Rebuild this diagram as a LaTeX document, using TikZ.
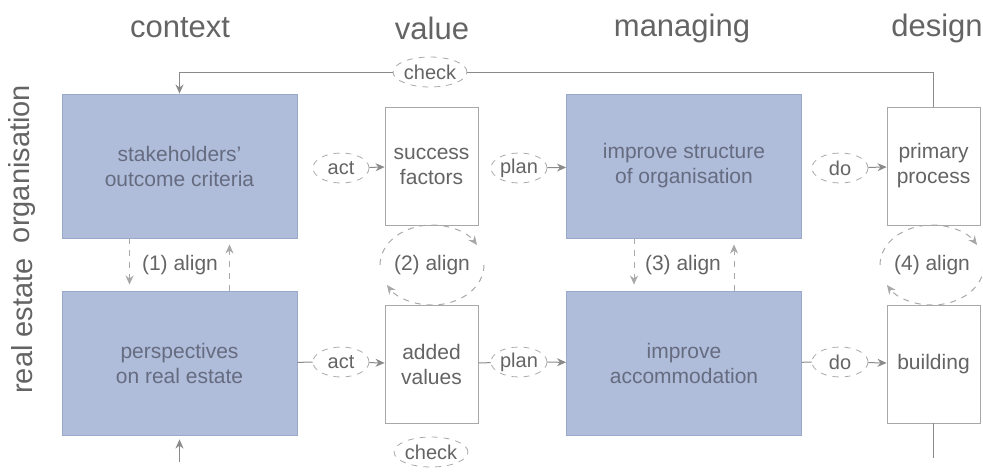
\documentclass[tikz,border=0pt]{standalone}
\usepackage{fontspec}
\setmainfont{Liberation Sans}
\usepackage{xcolor}
\usepackage{tikz}
\usetikzlibrary{arrows.meta, positioning, shapes.geometric}
\definecolor{areafill}{HTML}{AFBCDA}
\definecolor{areaedge}{HTML}{9AA8CC}
\definecolor{areatext}{HTML}{666C80}
\definecolor{itemedge}{HTML}{A8A8A8}
\definecolor{inktext}{HTML}{646464}
\definecolor{linegray}{HTML}{8A8A8A}
\tikzset{
  area/.style={draw=areaedge, fill=areafill, line width=0.4pt, minimum width=117.5pt,
               minimum height=72pt, align=center, text=areatext,
               font=\fontsize{10.5}{12.5}\selectfont},
  item/.style={draw=itemedge, fill=white, line width=0.4pt, minimum width=46.5pt,
               minimum height=59pt, align=center, text=inktext,
               font=\fontsize{10.5}{12.5}\selectfont},
  verb/.style={ellipse, draw=itemedge, dashed, line width=0.4pt, inner sep=0pt,
               minimum width=28pt, minimum height=15pt, text=inktext,
               font=\fontsize{10}{12}\selectfont},
  tag/.style={text=inktext, font=\fontsize{10.5}{12.5}\selectfont},
  head/.style={text=inktext, font=\fontsize{15.5}{18}\selectfont},
  rowlab/.style={text=inktext, rotate=90, font=\fontsize{14.5}{17}\selectfont},
  link/.style={draw=linegray, line width=0.5pt},
  flow/.style={link, -{Stealth[length=1.6mm, width=1.4mm]}},
  loopflow/.style={flow, dashed, draw=itemedge},
}
\begin{document}
\begin{tikzpicture}[x=0.5pt, y=-0.5pt]
\useasboundingbox (0,0) rectangle (983,473);
\node[head] (hctx) at (180,28) {context};
\node[head] (hval) at (432,28) {value};
\node[head] (hman) at (682,28) {managing};
\node[head] (hdes) at (937,28) {design};
\node[rowlab] (rorg) at (22,164) {organisation};
\node[rowlab] (rre) at (22,326) {real estate};
\node[area] (so) at (179.5,166) {stakeholders'\\outcome criteria};
\node[area] (pr) at (179.5,363) {perspectives\\on real estate};
\node[area] (is) at (684,166) {improve structure\\of organisation};
\node[area] (ia) at (684,363) {improve\\accommodation};
\node[item] (sf) at (431.5,166) {success\\factors};
\node[item] (av) at (431.5,364) {added\\values};
\node[item] (pp) at (933.5,166) {primary\\process};
\node[item] (bd) at (933.5,364) {building};
\node[verb] (act1) at (341,168) {act};
\node[verb] (act2) at (341,362) {act};
\node[verb] (plan1) at (519,168) {plan};
\node[verb] (plan2) at (519,362) {plan};
\node[verb] (do1) at (840,168) {do};
\node[verb] (do2) at (840,362) {do};
\node[verb] (chk1) at (430,72) {check};
\node[verb] (chk2) at (431,452) {check};
\node[tag] (al1) at (180,265) {(1) align};
\node[tag] (al2) at (432,265) {(2) align};
\node[tag] (al3) at (683,265) {(3) align};
\node[tag] (al4) at (932,265) {(4) align};
\coordinate (bl) at (933.5,458);
\coordinate (br) at (179.5,462);
\draw[flow] (act1) -- (sf);
\draw[flow] (plan1) -- (is);
\draw[flow] (do1) -- (pp);
\draw[link] (pr) -- (act2);
\draw[flow] (act2) -- (av);
\draw[link] (av) -- (plan2);
\draw[flow] (plan2) -- (ia);
\draw[link] (ia) -- (do2);
\draw[flow] (do2) -- (bd);
\draw[link] (pp.north) |- (chk1);
\draw[flow] (chk1) -| (so.north);
\draw[link] (bd.south) -- (bl);
\draw[flow, shorten >=2pt] (br) -- (pr.south);
\draw[loopflow, shorten >=3pt] ([xshift=-25pt]so.south) -- ([xshift=-25pt]pr.north);
\draw[loopflow, shorten >=3pt] ([xshift=25pt]pr.north) -- ([xshift=25pt]so.south);
\draw[loopflow, shorten >=3pt] ([xshift=-25pt]is.south) -- ([xshift=-25pt]ia.north);
\draw[loopflow, shorten >=3pt] ([xshift=25pt]ia.north) -- ([xshift=25pt]is.south);
\draw[loopflow] ([xshift=-26pt]al2.center) arc[start angle=180, end angle=30, x radius=26pt, y radius=20pt];
\draw[loopflow] ([xshift=26pt]al2.center) arc[start angle=0, end angle=-150, x radius=26pt, y radius=20pt];
\draw[loopflow] ([xshift=-26pt]al4.center) arc[start angle=180, end angle=30, x radius=26pt, y radius=20pt];
\draw[loopflow] ([xshift=26pt]al4.center) arc[start angle=0, end angle=-150, x radius=26pt, y radius=20pt];
\end{tikzpicture}
\end{document}
